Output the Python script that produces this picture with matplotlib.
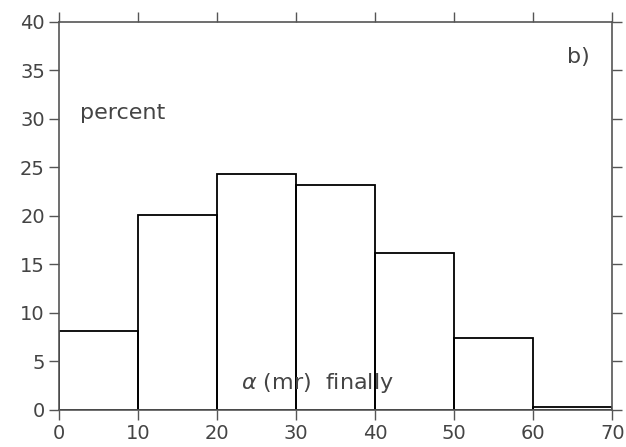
import numpy as np
import matplotlib.pyplot as plt

# histogram bins (alpha in mr) and percentages
bin_left = [0, 10, 20, 30, 40, 50, 60]
percent = [8.1, 20.1, 24.3, 23.2, 16.2, 7.4, 0.3]
xticks = [0, 10, 20, 30, 40, 50, 60, 70]
yticks = [0, 5, 10, 15, 20, 25, 30, 35, 40]

plt.rcParams['font.family'] = 'DejaVu Sans'
grey = '#555555'
tcol = '#444444'

fig = plt.figure(figsize=(6.26, 4.47), dpi=100)
ax = fig.add_axes([0.094, 0.083, 0.884, 0.868])

ax.bar(bin_left, percent, width=10, align='edge', facecolor='none',
       edgecolor='black', linewidth=1.3)

ax.set_xlim(0, 70)
ax.set_ylim(0, 40)
ax.set_xticks(xticks)
ax.set_yticks(yticks)
ax.tick_params(direction='out', length=7, width=1, color=grey, labelcolor=tcol,
               labelsize=14, pad=3, top=True, right=True,
               labeltop=False, labelright=False)
for s in ax.spines.values():
    s.set_color(grey)
    s.set_linewidth(1.2)

ax.text(2.7, 30.6, 'percent', fontsize=16, color=tcol, va='center')
ax.text(64.3, 36.4, 'b)', fontsize=16, color=tcol, va='center')
ax.text(23.0, 2.8, r'$\alpha$ (mr)  finally', fontsize=16, color=tcol,
        va='center')

fig.savefig('out.png', dpi=100)
